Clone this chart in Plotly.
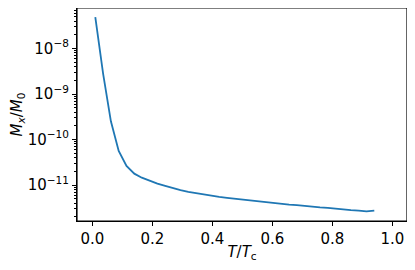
import plotly.graph_objects as go

t_over_tc = [0.010, 0.036, 0.062, 0.088, 0.114, 0.140, 0.165, 0.191, 0.217, 0.243,
             0.269, 0.294, 0.320, 0.346, 0.372, 0.398, 0.423, 0.449, 0.475, 0.501,
             0.527, 0.553, 0.578, 0.604, 0.630, 0.656, 0.682, 0.707, 0.733, 0.759,
             0.785, 0.811, 0.837, 0.862, 0.888, 0.914, 0.940]
mx_over_m0 = [4.90e-8, 2.82e-9, 2.51e-10, 5.62e-11, 2.63e-11, 1.78e-11, 1.45e-11, 1.23e-11,
              1.07e-11, 9.55e-12, 8.51e-12, 7.76e-12, 7.08e-12, 6.61e-12, 6.17e-12, 5.89e-12,
              5.50e-12, 5.25e-12, 5.01e-12, 4.79e-12, 4.57e-12, 4.37e-12, 4.17e-12, 4.07e-12,
              3.89e-12, 3.72e-12, 3.63e-12, 3.47e-12, 3.39e-12, 3.24e-12, 3.16e-12, 3.02e-12,
              2.95e-12, 2.82e-12, 2.75e-12, 2.63e-12, 2.75e-12]

y_tick_exps = [-11, -10, -9, -8]
y_tick_labels = ["10<sup>\u2212%d</sup>" % (-e) for e in y_tick_exps]
x_tick_vals = [0.0, 0.2, 0.4, 0.6, 0.8, 1.0]

minor_vals = [m * 10.0 ** e for e in range(-12, -7) for m in range(2, 10)]

fig = go.Figure()
fig.add_trace(go.Scatter(x=t_over_tc, y=mx_over_m0, mode="lines",
                         line=dict(color="#1f77b4", width=1.8), showlegend=False))

font = dict(family="DejaVu Sans", size=15, color="black")
fig.update_layout(
    width=407, height=254,
    margin=dict(l=69, r=8, t=0, b=41, pad=0),
    plot_bgcolor="white", paper_bgcolor="white",
    font=font,
    xaxis=dict(range=[-0.051, 1.049], tickvals=x_tick_vals, tickformat=".1f",
               showgrid=False, zeroline=False, showline=True, linecolor="black",
               linewidth=1, mirror=True, ticks="outside", ticklen=4, tickcolor="black",
               tickfont=font, automargin=False,
               title=dict(text="<i>T</i>/<i>T</i><sub>c</sub>", font=font, standoff=2)),
    yaxis=dict(type="log", range=[-11.79, -7.11],
               tickvals=[10.0 ** e for e in y_tick_exps], ticktext=y_tick_labels,
               showgrid=False, zeroline=False, showline=True, linecolor="black",
               linewidth=1.2, mirror=True, ticks="outside", ticklen=4, tickcolor="black",
               tickfont=font, automargin=False,
               minor=dict(tickvals=minor_vals, ticks="outside", ticklen=2,
                          tickcolor="black", showgrid=False),
               title=dict(text="<i>M</i><sub><i>x</i></sub>/<i>M</i><sub>0</sub>",
                          font=font, standoff=4)),
    shapes=[dict(type="rect", xref="paper", yref="paper", x0=0, y0=0, x1=1, y1=1,
                 line=dict(color="black", width=1.2), fillcolor="rgba(0,0,0,0)", layer="above")],
)
fig.write_html("out.html")
